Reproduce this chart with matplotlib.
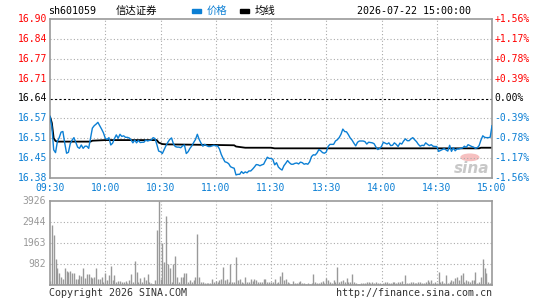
import numpy as np
import matplotlib
matplotlib.use("Agg")
import matplotlib.pyplot as plt
from matplotlib.patches import Rectangle, Circle

# ---- data ----
prev_close = 16.64
price_labels = ["16.38", "16.45", "16.51", "16.57", "16.64", "16.71", "16.77", "16.84", "16.90"]
pct_labels = ["-1.56%", "-1.17%", "-0.78%", "-0.39%", "0.00%", "+0.39%", "+0.78%", "+1.17%", "+1.56%"]
time_labels = ["09:30", "10:00", "10:30", "11:00", "11:30", "13:30", "14:00", "14:30", "15:00"]
vol_labels = ["982", "1963", "2944", "3926"]

prices_am = [
    16.581, 16.548, 16.472, 16.463, 16.499, 16.512, 16.530, 16.532, 16.494, 16.461,
    16.464, 16.492, 16.504, 16.512, 16.496, 16.481, 16.477, 16.488, 16.477, 16.484,
    16.484, 16.477, 16.510, 16.543, 16.551, 16.556, 16.562, 16.551, 16.540, 16.528,
    16.510, 16.506, 16.512, 16.488, 16.494, 16.509, 16.521, 16.510, 16.523, 16.516,
    16.518, 16.513, 16.513, 16.511, 16.505, 16.495, 16.504, 16.495, 16.503, 16.496,
    16.497, 16.497, 16.504, 16.501, 16.503, 16.504, 16.512, 16.509, 16.490, 16.468,
    16.466, 16.460, 16.473, 16.486, 16.497, 16.506, 16.511, 16.492, 16.483, 16.481,
    16.481, 16.479, 16.485, 16.488, 16.460, 16.466, 16.477, 16.485, 16.496, 16.506,
    16.523, 16.506, 16.494, 16.484, 16.490, 16.486, 16.483, 16.483, 16.485, 16.487,
    16.485, 16.485, 16.475, 16.457, 16.444, 16.433, 16.431, 16.427, 16.417, 16.414,
    16.412, 16.390, 16.392, 16.392, 16.401, 16.395, 16.400, 16.397, 16.403, 16.403,
    16.409, 16.416, 16.424, 16.423, 16.420, 16.423, 16.425, 16.437, 16.448, 16.444,
]
prices_pm = [
    16.444, 16.441, 16.423, 16.430, 16.416, 16.410, 16.406, 16.420, 16.428, 16.437,
    16.430, 16.425, 16.425, 16.428, 16.429, 16.426, 16.432, 16.430, 16.425, 16.427,
    16.425, 16.433, 16.450, 16.456, 16.455, 16.462, 16.473, 16.469, 16.463, 16.461,
    16.465, 16.483, 16.490, 16.490, 16.490, 16.501, 16.505, 16.512, 16.523, 16.540,
    16.532, 16.531, 16.522, 16.511, 16.504, 16.494, 16.485, 16.497, 16.501, 16.501,
    16.501, 16.499, 16.491, 16.497, 16.496, 16.495, 16.492, 16.481, 16.473, 16.477,
    16.483, 16.497, 16.494, 16.491, 16.495, 16.486, 16.487, 16.495, 16.490, 16.483,
    16.494, 16.491, 16.501, 16.508, 16.502, 16.502, 16.508, 16.512, 16.505, 16.499,
    16.490, 16.484, 16.487, 16.486, 16.495, 16.490, 16.486, 16.489, 16.484, 16.483,
    16.483, 16.467, 16.470, 16.473, 16.476, 16.472, 16.468, 16.487, 16.467, 16.479,
    16.469, 16.475, 16.475, 16.477, 16.478, 16.484, 16.480, 16.489, 16.486, 16.483,
    16.481, 16.477, 16.479, 16.486, 16.504, 16.518, 16.513, 16.512, 16.512, 16.513,
    16.551,
]

avg_min = [0, 1, 2, 3, 4, 22, 23, 30, 58, 59, 61, 63, 90, 100, 101, 106, 120, 122, 233, 234, 240]
avg_val = [16.581, 16.56, 16.51, 16.501, 16.499, 16.499, 16.502, 16.504, 16.504, 16.496, 16.491,
           16.490, 16.488, 16.487, 16.483, 16.479, 16.479, 16.477, 16.477, 16.479, 16.479]

vol_am = [
    190, 2800, 2340, 1215, 810, 545, 390, 280, 810, 654,
    592, 654, 545, 545, 280, 280, 467, 436, 810, 312,
    514, 514, 390, 343, 370, 810, 280, 280, 390, 156,
    545, 234, 467, 888, 234, 467, 156, 190, 190, 125,
    156, 190, 110, 234, 498, 125, 1121, 592, 125, 343,
    156, 390, 234, 498, 156, 78, 47, 234, 2570, 3926,
    280, 1947, 1060, 3240, 966, 810, 156, 966, 1371, 390,
    125, 390, 390, 545, 545, 156, 234, 125, 234, 390,
    2368, 390, 156, 125, 78, 78, 110, 78, 280, 125,
    190, 156, 234, 280, 857, 234, 280, 156, 966, 156,
    125, 1324, 234, 280, 125, 78, 390, 156, 125, 280,
    190, 280, 234, 156, 125, 156, 280, 265, 156, 125,
]
vol_pm = [
    125, 160, 280, 78, 125, 436, 592, 234, 280, 125,
    78, 47, 190, 110, 78, 156, 190, 78, 78, 47,
    78, 62, 94, 514, 156, 110, 78, 156, 190, 110,
    312, 234, 156, 78, 234, 156, 841, 156, 190, 234,
    156, 312, 125, 156, 498, 125, 78, 47, 62, 78,
    78, 110, 125, 156, 78, 125, 78, 125, 78, 78,
    62, 78, 125, 156, 78, 110, 125, 156, 110, 156,
    125, 190, 47, 467, 78, 110, 156, 125, 78, 110,
    156, 125, 78, 110, 156, 234, 125, 234, 78, 125,
    78, 623, 156, 190, 78, 467, 78, 156, 218, 190,
    312, 390, 234, 467, 545, 125, 234, 190, 156, 234,
    234, 623, 78, 156, 390, 1215, 810, 545, 125, 94,
    156,
]

prices = prices_am + prices_pm
volumes = vol_am + vol_pm
minutes = np.arange(len(prices))

BLUE = "#0b7fd4"
RED = "#ff0000"
GRAY = "#999999"
MONO = "DejaVu Sans Mono"
W, H = 545, 300

def fx(x):
    return x / W

def fy(y):
    return 1 - y / H

fig = plt.figure(figsize=(5.45, 3.0), dpi=100)
ax = fig.add_axes([fx(50), fy(178), fx(442), 159 / H])
axv = fig.add_axes([fx(50), fy(285), fx(442), 84 / H])

# ---- price panel ----
ymin, ymax = 16.38, 16.90
levels = np.linspace(ymin, ymax, len(price_labels))
xticks = np.arange(0, 241, 30)

for lv in levels[1:-1]:
    if abs(lv - prev_close) < 1e-6:
        ax.axhline(lv, color="black", lw=0.8, ls=(0, (2, 2)), zorder=1)
    else:
        ax.axhline(lv, color="#aaaaaa", lw=0.8, ls=(0, (1, 2)), zorder=1)
for xt in xticks[1:-1]:
    ax.axvline(xt, color="#aaaaaa", lw=0.8, ls=(0, (1, 2)), zorder=1)

ax.plot(minutes, prices, color=BLUE, lw=1.0, zorder=3)
ax.plot(avg_min, avg_val, color="black", lw=1.3, zorder=2)

ax.set_xlim(0, 240)
ax.set_ylim(ymin, ymax)
ax.set_xticks([])
ax.set_yticks([])
for s in ax.spines.values():
    s.set_color(GRAY)
    s.set_linewidth(1.2)

for i, lv in enumerate(levels):
    c = BLUE if i < 4 else ("black" if i == 4 else RED)
    ax.text(-0.007, (lv - ymin) / (ymax - ymin), price_labels[i], transform=ax.transAxes,
            ha="right", va="center", color=c, fontsize=7, family=MONO)
    ax.text(1.005, (lv - ymin) / (ymax - ymin), pct_labels[i], transform=ax.transAxes,
            ha="left", va="center", color=c, fontsize=7, family=MONO)

for xt, lab in zip(xticks, time_labels):
    ax.text(xt / 240, -0.065, lab, transform=ax.transAxes, ha="center", va="center",
            color=BLUE, fontsize=7, family=MONO)

# sina watermark
ax.add_patch(Circle((0.95, 0.13), 0.02, transform=ax.transAxes, color="#f6c0c0", zorder=0))
ax.text(0.995, 0.01, "sina", transform=ax.transAxes, ha="right", va="bottom",
        color="#c8c8c8", fontsize=11, fontweight="bold", style="italic", family="DejaVu Sans", zorder=0)

# ---- volume panel ----
vmax = 3926
vlevels = np.linspace(0, vmax, 5)[1:]
for lv in vlevels[:-1]:
    axv.axhline(lv, color="#aaaaaa", lw=0.8, ls=(0, (1, 2)), zorder=1)
for xt in xticks[1:-1]:
    axv.axvline(xt, color="#aaaaaa", lw=0.8, ls=(0, (1, 2)), zorder=1)
axv.vlines(minutes, 0, volumes, color=GRAY, lw=1.0, zorder=2)
axv.set_xlim(0, 240)
axv.set_ylim(0, vmax)
axv.set_xticks([])
axv.set_yticks([])
for s in axv.spines.values():
    s.set_color(GRAY)
    s.set_linewidth(1.2)
for lv, lab in zip(vlevels, vol_labels):
    axv.text(-0.009, lv / vmax, lab, transform=axv.transAxes, ha="right", va="center",
             color=GRAY, fontsize=7, family=MONO)

# ---- header and footer ----
fam = [MONO, "Noto Sans CJK SC"]
fig.text(fx(48), fy(11), "sh601059", ha="left", va="center", fontsize=7.2, family=fam)
fig.text(fx(116), fy(11), "信达证券", ha="left", va="center", fontsize=7.5, family=fam)
fig.add_artist(Rectangle((fx(192), fy(12.5)), fx(9), 3 / H, color=BLUE, transform=fig.transFigure))
fig.text(fx(207), fy(11), "价格", ha="left", va="center", fontsize=7.5, color=BLUE, family=fam)
fig.add_artist(Rectangle((fx(240), fy(12.5)), fx(9), 3 / H, color="black", transform=fig.transFigure))
fig.text(fx(255), fy(11), "均线", ha="left", va="center", fontsize=7.5, family=fam)
fig.text(fx(471), fy(11), "2026-07-22 15:00:00", ha="right", va="center", fontsize=7.2, family=MONO)

fig.text(fx(49), fy(293), "Copyright 2026 SINA.COM", ha="left", va="center",
         fontsize=7.2, color="#333333", family=MONO)
fig.text(fx(492), fy(293), "http://finance.sina.com.cn", ha="right", va="center",
         fontsize=7.2, color="#333333", family=MONO)

fig.savefig("out.png", dpi=100, facecolor="white")
